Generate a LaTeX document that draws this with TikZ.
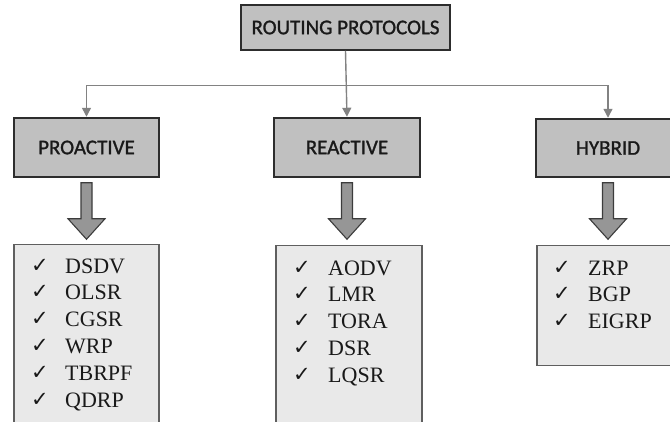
\documentclass[tikz,border=0pt]{standalone}
\usepackage{fontspec}
\setmainfont{Liberation Serif}
\newfontfamily\boxfont[FakeBold=1.2]{Carlito}
\newfontfamily\checkfont{DejaVu Sans}
\usetikzlibrary{arrows.meta,calc}
\definecolor{boxfill}{RGB}{192,192,192}
\definecolor{boxline}{RGB}{45,45,45}
\definecolor{listfill}{RGB}{233,233,233}
\definecolor{listline}{RGB}{95,95,95}
\definecolor{arrfill}{RGB}{150,150,150}
\definecolor{arrline}{RGB}{60,60,60}
\definecolor{conn}{RGB}{130,130,130}
\definecolor{txt}{RGB}{25,25,25}
\newcommand{\ck}[2]{\makebox[#1][l]{\raisebox{1pt}{\checkfont\fontsize{21}{21}\selectfont ✓}}#2}
\begin{document}
\begin{tikzpicture}[x=1pt,y=-1pt,
  catbox/.style={draw=boxline, line width=1.5pt, fill=boxfill, inner sep=0pt,
    font=\boxfont\fontsize{21}{24}\selectfont, text=txt},
  listbox/.style={draw=listline, line width=1.2pt, fill=listfill, inner sep=0pt, anchor=north},
  item/.style={anchor=base west, inner sep=0pt, text=txt, font=\fontsize{22}{25}\selectfont},
  connector/.style={draw=conn, line width=1.4pt, -{Triangle[width=9pt,length=9pt]}, shorten >=0.5pt},
  blockarr/.style={draw=arrline, line width=1.1pt, fill=arrfill, line join=miter}
]
\useasboundingbox (0,0) rectangle (670,421);
\clip (0,0) rectangle (670,421);

% category boxes
\node[catbox, minimum width=209pt, minimum height=45pt] (root) at (345.5,27.5) {ROUTING PROTOCOLS};
\node[catbox, minimum width=145pt, minimum height=59pt] (pro) at (86.5,147.5) {PROACTIVE};
\node[catbox, minimum width=146pt, minimum height=59pt] (rea) at (347,147.5) {REACTIVE};
\node[catbox, minimum width=144pt, minimum height=58pt] (hyb) at (608,148) {HYBRID};

% connectors
\coordinate (junc) at ($(root.south)+(0,35)$);
\draw[connector] (root.south) -- (rea.north);
\draw[connector] (junc) -| (pro.north);
\draw[connector] (junc) -| (hyb.north);

% list boxes
\node[listbox, minimum width=145pt, minimum height=200pt] (lpro) at (86.5,244) {};
\node[listbox, minimum width=146pt, minimum height=200pt] (lrea) at (349,245) {};
\node[listbox, minimum width=144pt, minimum height=120pt] (lhyb) at (609,245) {};

% block arrows
\foreach \n in {pro,rea,hyb}{
  \draw[blockarr] ($(\n.south)+(-5.5,5)$) -- ($(\n.south)+(5.5,5)$) -- ($(\n.south)+(5.5,41)$)
    -- ($(\n.south)+(18.5,41)$) -- ($(\n.south)+(0,61.5)$) -- ($(\n.south)+(-18.5,41)$)
    -- ($(\n.south)+(-5.5,41)$) -- cycle;
}

% list items
\node[item] (p1) at (31,273.0) {\ck{34pt}{DSDV}};
\node[item] (p2) at (31,299.8) {\ck{34pt}{OLSR}};
\node[item] (p3) at (31,326.6) {\ck{34pt}{CGSR}};
\node[item] (p4) at (31,353.4) {\ck{34pt}{WRP}};
\node[item] (p5) at (31,380.2) {\ck{34pt}{TBRPF}};
\node[item] (p6) at (31,407.0) {\ck{34pt}{QDRP}};

\node[item] (r1) at (293,275.0) {\ck{35pt}{AODV}};
\node[item] (r2) at (293,301.75) {\ck{35pt}{LMR}};
\node[item] (r3) at (293,328.5) {\ck{35pt}{TORA}};
\node[item] (r4) at (293,355.25) {\ck{35pt}{DSR}};
\node[item] (r5) at (293,382.0) {\ck{35pt}{LQSR}};

\node[item] (h1) at (553,275.0) {\ck{35pt}{ZRP}};
\node[item] (h2) at (553,301.5) {\ck{35pt}{BGP}};
\node[item] (h3) at (553,328.0) {\ck{35pt}{EIGRP}};
\end{tikzpicture}
\end{document}
